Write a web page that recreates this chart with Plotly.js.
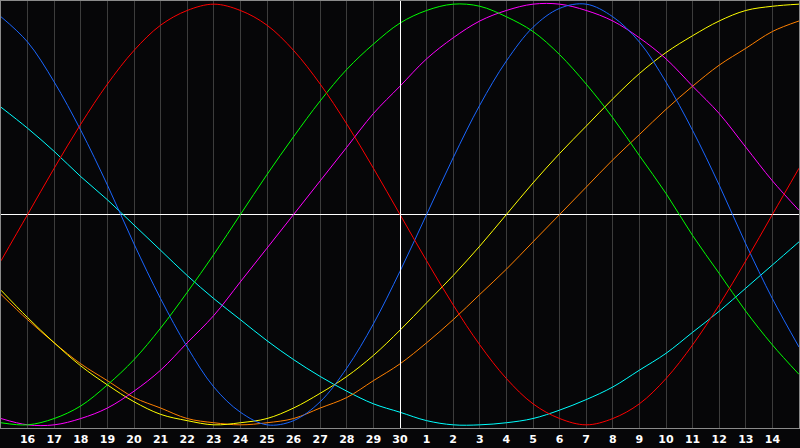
<!DOCTYPE html>
<html>
<head>
<meta charset="utf-8">
<script src="https://cdn.plot.ly/plotly-3.0.1.min.js"></script>
<style>
  html, body { margin:0; padding:0; background:#060608; }
  #bio { width:800px; height:448px; }
</style>
</head>
<body>
<div id="bio"></div>
<script>
// day slots across the window, 0 = left edge, 30 = right edge
var days = [0,1,2,3,4,5,6,7,8,9,10,11,12,13,14,15,16,17,18,19,20,21,22,23,24,25,26,27,28,29,30];
var dayLabels = ['','16','17','18','19','20','21','22','23','24','25','26','27','28','29','30',
                 '1','2','3','4','5','6','7','8','9','10','11','12','13','14',''];
var todaySlot = 15;

// cycle values in percent, read per day off the chart
var red = [-22,0,22,43,62,78,90,97,100,97,90,78,62,43,22,0,-22,-43,-62,-78,-90,-97,-100,-97,-90,-78,-62,-43,-22,0,22];
var blue = [94,82,63,40,14,-14,-40,-63,-82,-94,-100,-98,-89,-73,-52,-27,0,27,52,73,89,98,100,94,82,63,40,14,-14,-40,-63];
var green = [-99,-100,-97,-91,-81,-69,-54,-37,-19,0,19,37,54,69,81,91,97,100,99,94,87,76,62,46,28,10,-10,-28,-46,-62,-76];
var cyan = [51,41,30,18,7,-5,-17,-29,-40,-50,-60,-69,-77,-84,-90,-94,-98,-100,-100,-99,-97,-93,-88,-82,-74,-66,-56,-46,-35,-24,-13];
var magenta = [-97,-100,-100,-97,-92,-84,-74,-61,-48,-32,-16,0,16,32,48,61,74,84,92,97,100,100,97,92,84,74,61,48,32,16,2];
var yellow = [-36,-49,-61,-72,-81,-89,-95,-98,-100,-99,-97,-92,-85,-77,-67,-55,-42,-29,-15,0,15,29,42,55,67,77,85,92,97,99,100];
var orange = [-38,-50,-61,-71,-79,-87,-92,-97,-99,-100,-99,-97,-92,-87,-79,-71,-61,-50,-38,-26,-13,0,13,26,38,50,61,71,79,87,92];

function curve(vals, col) {
  return {
    x: days, y: vals, type: 'scatter', mode: 'lines',
    line: { color: col, width: 1, shape: 'spline', smoothing: 1 },
    hoverinfo: 'skip'
  };
}

var traces = [
  curve(cyan, '#00ffff'),
  curve(orange, '#ff8000'),
  curve(yellow, '#ffff00'),
  curve(magenta, '#ff00ff'),
  curve(green, '#00ff00'),
  curve(blue, '#1a66ff'),
  curve(red, '#ff0000')
];

var layout = {
  width: 800, height: 448,
  margin: { l: 1, r: 1, t: 1, b: 20, pad: 0 },
  paper_bgcolor: '#060608',
  plot_bgcolor: '#060608',
  showlegend: false,
  hovermode: false,
  xaxis: {
    range: [0, 30],
    tickmode: 'array', tickvals: days, ticktext: dayLabels,
    ticks: '', showgrid: true, gridcolor: '#3c3c3c', gridwidth: 1,
    zeroline: false,
    showline: true, mirror: true, linecolor: '#8a8a8a', linewidth: 1,
    tickfont: { family: 'DejaVu Sans', size: 11, color: '#ffffff', weight: 'bold' },
    ticklabelstandoff: 1,
    fixedrange: true
  },
  yaxis: {
    range: [-101.5, 101.5],
    showticklabels: false, ticks: '', showgrid: false,
    zeroline: true, zerolinecolor: '#ffffff', zerolinewidth: 1,
    showline: true, mirror: true, linecolor: '#8a8a8a', linewidth: 1,
    fixedrange: true
  },
  shapes: [{
    type: 'line', xref: 'x', yref: 'y',
    x0: todaySlot + 0.019, x1: todaySlot + 0.019, y0: -101.5, y1: 101.5,
    line: { color: '#ffffff', width: 1 }, layer: 'above'
  }]
};

Plotly.newPlot('bio', traces, layout, { staticPlot: true, displayModeBar: false });
</script>
</body>
</html>
